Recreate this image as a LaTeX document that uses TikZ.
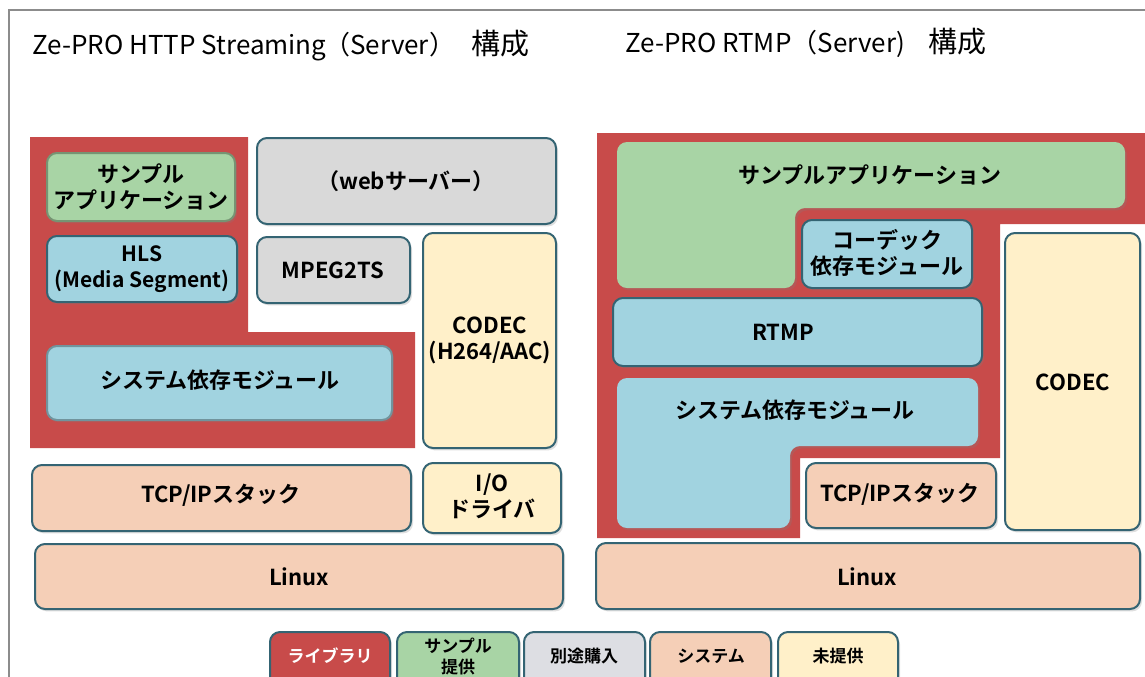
\documentclass[tikz,border=0pt]{standalone}
\usepackage{fontspec}
\setmainfont{Noto Sans CJK JP}[BoldFont={Noto Sans CJK JP Bold}]
\usetikzlibrary{shadows}
\definecolor{libred}{RGB}{200,75,74}
\definecolor{smpgreen}{RGB}{168,212,165}
\definecolor{modblue}{RGB}{161,211,224}
\definecolor{buygray}{RGB}{217,217,217}
\definecolor{buygrayL}{RGB}{221,222,227}
\definecolor{syssalmon}{RGB}{245,207,183}
\definecolor{nayellow}{RGB}{255,240,201}
\definecolor{edge}{RGB}{52,100,115}
\definecolor{framegray}{RGB}{140,140,140}
\newcommand{\kousei}{{\fontsize{14.5pt}{15pt}\selectfont 構成}}
\tikzset{
  blk/.style={draw=edge, line width=1pt, rounded corners=5pt,
    drop shadow={shadow xshift=1pt, shadow yshift=-1.2pt, opacity=0.25}},
  softblk/.style={rounded corners=5pt,
    drop shadow={shadow xshift=1pt, shadow yshift=-1.2pt, opacity=0.25}},
  lbl/.style={align=center, font=\fontsize{11pt}{13pt}\selectfont\bfseries, inner sep=0pt},
  ttl/.style={anchor=west, font=\fontsize{13pt}{15pt}\selectfont, inner sep=0pt},
  leg/.style={align=center, font=\fontsize{8.5pt}{10.5pt}\selectfont\bfseries, inner sep=0pt}
}
\begin{document}
\begin{tikzpicture}[x=0.5pt,y=-0.5pt]
\useasboundingbox (0,0) rectangle (1145,676);
\clip (0,0) rectangle (1145,676);
\fill[white] (0,0) rectangle (1145,676);
% outer frame
\draw[framegray, line width=1pt] (9,690) -- (9,10) -- (1160,10);

% titles
\node[ttl] (t1) at (32,46) {Ze-PRO HTTP Streaming\hspace{-1pt}（Server）\hspace{8pt}\kousei};
\node[ttl] (t2) at (625,43) {Ze-PRO RTMP（Server)\hspace{12pt}\kousei};

% ===== left panel =====
\fill[libred] (30,137) -- (248,137) -- (248,332) -- (415,332) -- (415,448) -- (30,448) -- cycle;
\draw[blk, fill=smpgreen, draw=smpgreen!70!black] (47,153) rectangle (235,221);
\node[lbl] (smpL) at (141,187) {サンプル\\アプリケーション};
\draw[blk, fill=modblue] (47,236) rectangle (237,302);
\node[lbl, font=\fontsize{10.5pt}{13pt}\selectfont\bfseries] (hls) at (142,269) {HLS\\(Media Segment)};
\draw[blk, fill=buygray] (257,138) rectangle (556,224);
\node[lbl] (web) at (406,181) {（webサーバー）};
\draw[blk, fill=buygray] (257,237) rectangle (410,303);
\node[lbl] (mpeg) at (333,270) {MPEG2TS};
\draw[blk, fill=nayellow] (423,233) rectangle (556,448);
\node[lbl] (codecL) at (490,340) {CODEC\\(H264/AAC)};
\draw[blk, fill=modblue, draw=modblue!70!black] (47,346) rectangle (392,420);
\node[lbl] (sysL) at (220,380) {システム依存モジュール};
\draw[blk, fill=syssalmon] (32,465) rectangle (411,531);
\node[lbl] (tcpL) at (221,495) {TCP/IPスタック};
\draw[blk, fill=nayellow] (423,463) rectangle (561,533);
\node[lbl] (io) at (492,496) {I/O\\ドライバ};
\draw[blk, fill=syssalmon] (35,544) rectangle (563,609);
\node[lbl] (linuxL) at (299,577) {Linux};

% ===== right panel =====
\fill[libred] (597,133) -- (1150,133) -- (1150,224) -- (1000,224) -- (1000,458) -- (800,458) -- (800,538) -- (597,538) -- cycle;
\fill[softblk, fill=smpgreen] (617,142) -- (1125,142) -- (1125,208) -- (795,208) -- (795,288) -- (617,288) -- cycle;
\node[lbl] (smpR) at (870,175) {サンプルアプリケーション};
\draw[blk, fill=modblue] (802,220) rectangle (972,288);
\node[lbl] (cdep) at (887,253) {コーデック\\依存モジュール};
\draw[blk, fill=modblue] (613,298) rectangle (982,366);
\node[lbl] (rtmp) at (783,332) {RTMP};
\fill[softblk, fill=modblue] (617,378) -- (978,378) -- (978,446) -- (790,446) -- (790,528) -- (617,528) -- cycle;
\node[lbl] (sysR) at (795,410) {システム依存モジュール};
\draw[blk, fill=syssalmon] (806,463) rectangle (996,528);
\node[lbl] (tcpR) at (900,494) {TCP/IPスタック};
\draw[blk, fill=nayellow] (1005,233) rectangle (1140,530);
\node[lbl] (codecR) at (1073,382) {CODEC};
\draw[blk, fill=syssalmon] (596,543) rectangle (1140,609);
\node[lbl] (linuxR) at (867,577) {Linux};

% ===== legend =====
\draw[blk, fill=libred] (270,632) rectangle (390,700);
\node[leg, text=white] (lg1) at (330,656) {ライブラリ};
\draw[blk, fill=smpgreen] (397,632) rectangle (519,700);
\node[leg] (lg2) at (458,656) {サンプル\\提供};
\draw[blk, fill=buygrayL] (524,632) rectangle (645,700);
\node[leg] (lg3) at (584,656) {別途購入};
\draw[blk, fill=syssalmon] (650,632) rectangle (771,700);
\node[leg] (lg4) at (711,656) {システム};
\draw[blk, fill=nayellow] (778,632) rectangle (898,700);
\node[leg] (lg5) at (838,656) {未提供};
\end{tikzpicture}
\end{document}
